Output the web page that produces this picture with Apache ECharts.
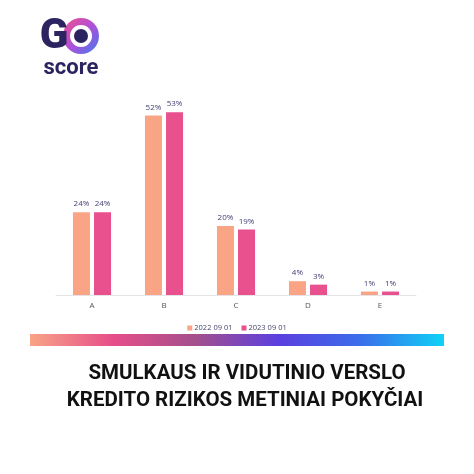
<!DOCTYPE html>
<html>
<head>
<meta charset="utf-8">
<script src="https://cdn.jsdelivr.net/npm/echarts@6/dist/echarts.min.js"></script>
<style>html,body{margin:0;padding:0;background:#fff;}#c{width:474px;height:474px;}</style>
</head>
<body>
<div id="c"></div>
<script>
const categories = ['A', 'B', 'C', 'D', 'E'];
const series2022 = [24, 52, 20, 4, 1];
const series2023 = [24, 53, 19, 3, 1];
const seriesNames = ['2022 09 01', '2023 09 01'];
const titleLines = ['SMULKAUS IR VIDUTINIO VERSLO', 'KREDITO RIZIKOS METINIAI POKYČIAI'];

const chart = echarts.init(document.getElementById('c'));
const labelStyle = { show: true, position: 'top', distance: 4, formatter: '{c}%', color: '#3f3d72', fontSize: 8, fontFamily: 'Open Sans' };
chart.setOption({
  backgroundColor: '#fff',
  animation: false,
  grid: { left: 56, right: 58, top: 88, bottom: 179 },
  legend: {
    data: seriesNames, top: 319, left: 'center', itemWidth: 5, itemHeight: 5, itemGap: 9,
    icon: 'rect',
    textStyle: { color: '#44446a', fontSize: 7.5, fontFamily: 'Open Sans', padding: [0, 0, 0, -3] }
  },
  xAxis: {
    type: 'category', data: categories,
    axisLine: { lineStyle: { color: '#e3e3e8', width: 1 } },
    axisTick: { show: false },
    axisLabel: { color: '#555', fontSize: 8, margin: 7, fontFamily: 'Open Sans' }
  },
  yAxis: { type: 'value', min: 0, max: 60, show: false, splitLine: { show: false } },
  series: [
    { name: seriesNames[0], type: 'bar', data: series2022, barWidth: 17, barGap: '24%', itemStyle: { color: '#f9a585' }, label: labelStyle },
    { name: seriesNames[1], type: 'bar', data: series2023, barWidth: 17, itemStyle: { color: '#e8508e' }, label: labelStyle }
  ],
  graphic: [
    { type: 'rect', shape: { x: 30, y: 334, width: 414, height: 12 },
      style: { fill: new echarts.graphic.LinearGradient(0, 0, 1, 0, [
        { offset: 0, color: '#f8a386' },
        { offset: 0.2, color: '#e64f8a' },
        { offset: 0.4, color: '#a34f8c' },
        { offset: 0.6, color: '#5b3fdf' },
        { offset: 0.8, color: '#3a6eea' },
        { offset: 1, color: '#0fd2f6' }
      ]) } },
    { type: 'text', x: 247, y: 374, style: { text: titleLines[0], fill: '#111', font: 'bold 20.5px Roboto', textAlign: 'center', textVerticalAlign: 'middle' } },
    { type: 'text', x: 245, y: 401, style: { text: titleLines[1], fill: '#111', font: 'bold 20.5px Roboto', textAlign: 'center', textVerticalAlign: 'middle' } },
    // logo
    { type: 'circle', shape: { cx: 81, cy: 36, r: 18 },
      style: { fill: new echarts.graphic.LinearGradient(0, 0, 1, 1, [
        { offset: 0, color: '#f2508a' },
        { offset: 0.5, color: '#b04fd8' },
        { offset: 1, color: '#3f7bf0' }
      ]) } },
    { type: 'circle', shape: { cx: 81, cy: 36, r: 11 }, style: { fill: '#fff' } },
    { type: 'circle', shape: { cx: 81, cy: 36, r: 7 }, style: { fill: '#2b2460' } },
    { type: 'text', x: 54, y: 37, style: { text: 'G', fill: '#2b2460', font: '900 42px Roboto', textAlign: 'center', textVerticalAlign: 'middle' } },
    { type: 'text', x: 71, y: 68, style: { text: 'score', fill: '#2b2460', font: 'bold 22px Roboto', textAlign: 'center', textVerticalAlign: 'middle' } }
  ]
});
</script>
</body>
</html>
